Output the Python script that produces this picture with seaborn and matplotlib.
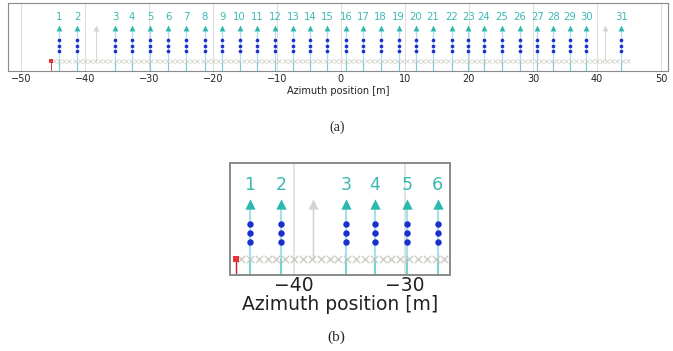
import matplotlib
matplotlib.use("Agg")
import matplotlib.pyplot as plt
import seaborn as sns
import pandas as pd

# ---------------- data ----------------
tx_positions = [-44.0, -41.2, -35.3, -32.7, -29.8, -27.0, -24.2, -21.3, -18.5,
                -15.8, -13.1, -10.3, -7.5, -4.8, -2.1, 0.8, 3.5, 6.2, 9.0,
                11.7, 14.4, 17.3, 19.9, 22.3, 25.1, 27.9, 30.7, 33.2, 35.8,
                38.3, 43.8]
tx_labels = [str(i) for i in range(1, 32)]
off_positions = [-38.3, 41.2]
dot_levels = [0.29, 0.37, 0.45]
red_position = [-45.3]
rx_positions = [-44.8, -44.0, -43.2, -42.4, -41.6, -40.8, -40.0, -39.2, -38.4,
                -37.6, -36.8, -36.0, -35.2, -34.4, -33.6, -32.8, -32.0, -31.2,
                -30.4, -29.6, -28.8, -28.0, -27.2, -26.4, -25.6, -24.8, -24.0,
                -23.2, -22.4, -21.6, -20.8, -20.0, -19.2, -18.4, -17.6, -16.8,
                -16.0, -15.2, -14.4, -13.6, -12.8, -12.0, -11.2, -10.4, -9.6,
                -8.8, -8.0, -7.2, -6.4, -5.6, -4.8, -4.0, -3.2, -2.4, -1.6,
                -0.8, 0.0, 0.8, 1.6, 2.4, 3.2, 4.0, 4.8, 5.6, 6.4, 7.2, 8.0,
                8.8, 9.6, 10.4, 11.2, 12.0, 12.8, 13.6, 14.4, 15.2, 16.0, 16.8,
                17.6, 18.4, 19.2, 20.0, 20.8, 21.6, 22.4, 23.2, 24.0, 24.8,
                25.6, 26.4, 27.2, 28.0, 28.8, 29.6, 30.4, 31.2, 32.0, 32.8,
                33.6, 34.4, 35.2, 36.0, 36.8, 37.6, 38.4, 39.2, 40.0, 40.8,
                41.6, 42.4, 43.2, 44.0, 44.8]
xticks_a = [-50, -40, -30, -20, -10, 0, 10, 20, 30, 40, 50]
xticks_b = [-40, -30]

TRI_Y = 0.635
LABEL_Y = 0.80
RX_Y = 0.145

sns.set_theme(style="whitegrid")
plt.rcParams['font.family'] = ['DejaVu Sans']

fig = plt.figure(figsize=(6.73, 3.51), dpi=100)
ax_a = fig.add_axes([0.0119, 0.7977, 0.9807, 0.1938])
ax_b = fig.add_axes([0.3418, 0.2165, 0.3268, 0.3200])

dots_df = pd.DataFrame([(x, y) for x in tx_positions for y in dot_levels],
                       columns=["x", "y"])
tx_df = pd.DataFrame({"x": tx_positions, "y": [TRI_Y] * len(tx_positions)})
off_df = pd.DataFrame({"x": off_positions, "y": [TRI_Y] * len(off_positions)})
rx_df = pd.DataFrame({"x": rx_positions, "y": [RX_Y] * len(rx_positions)})
red_df = pd.DataFrame({"x": red_position, "y": [RX_Y]})


def draw(ax, k, fs_lab, xlim, xticks, fs_tick, pad, labelpad):
    ax.vlines(tx_positions, -0.1, TRI_Y, color="#a8dff0", lw=0.9 * k, zorder=1)
    ax.vlines(tx_positions, -0.1, RX_Y, color="#5cc6c0", lw=0.7 * k, zorder=1,
              alpha=0.7)
    ax.vlines(off_positions, RX_Y, TRI_Y, color="#cfcfcf", lw=0.6 * k, zorder=1)
    sns.scatterplot(data=rx_df, x="x", y="y", marker="x", color="#c4c4b8",
                    s=9 * k * k, linewidth=0.6 * k, alpha=0.8, ax=ax,
                    legend=False, zorder=2)
    sns.scatterplot(data=red_df, x="x", y="y", marker="s", color="#e8323c",
                    s=6 * k * k, linewidth=0, ax=ax, legend=False, zorder=3)
    ax.vlines(red_position, -0.1, RX_Y, color="#c02030", lw=0.6 * k, zorder=2)
    sns.scatterplot(data=dots_df, x="x", y="y", marker="o", color="#1a2fd0",
                    s=7 * k * k, linewidth=0, ax=ax, legend=False, zorder=3)
    sns.scatterplot(data=tx_df, x="x", y="y", marker="^", color="#2cb8ad",
                    s=18 * k * k, linewidth=0, ax=ax, legend=False, zorder=3)
    sns.scatterplot(data=off_df, x="x", y="y", marker="^", color="#d4d4d4",
                    s=18 * k * k, linewidth=0, ax=ax, legend=False, zorder=3)
    for x, lab in zip(tx_positions, tx_labels):
        if xlim[0] < x < xlim[1]:
            ax.text(x, LABEL_Y, lab, ha="center", va="center",
                    fontsize=fs_lab, color="#3ab9b2", zorder=4)
    ax.set_xlim(*xlim)
    ax.set_ylim(0, 1)
    ax.set_xticks(xticks)
    ax.set_xticklabels([f"\u2212{-t}" if t < 0 else str(t) for t in xticks],
                       fontsize=fs_tick, color="#222222")
    ax.set_yticks([])
    ax.set_ylabel("")
    ax.set_xlabel("Azimuth position [m]", fontsize=fs_tick, color="#222222",
                  labelpad=labelpad)
    ax.tick_params(axis="x", length=0, pad=pad)
    ax.grid(axis="x", color="#dddddd", lw=0.7 * k)
    ax.grid(axis="y", visible=False)
    for sp in ax.spines.values():
        sp.set_color("#8a8a8a")
        sp.set_linewidth(0.8 * k)


draw(ax_a, 1.0, 7.3, (-52.0, 51.1), xticks_a, 7, 2, 1.5)
draw(ax_b, 1.75, 12.5, (-45.8, -25.9), xticks_b, 13.5, 1, 0)

fig.text(0.5007, 0.638, "(a)", ha="center", va="center", fontsize=10,
         family=["Liberation Serif"])
fig.text(0.5, 0.040, "(b)", ha="center", va="center", fontsize=11,
         family=["Liberation Serif"])

fig.savefig("out.png", dpi=100, facecolor="white")
